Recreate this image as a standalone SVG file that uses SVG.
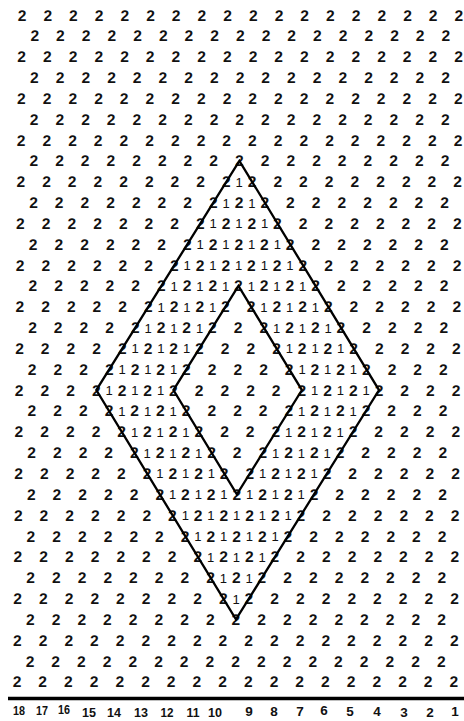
<svg xmlns="http://www.w3.org/2000/svg" xmlns:xlink="http://www.w3.org/1999/xlink" width="464" height="721" viewBox="0 0 464 721">
<style>
.two{font-family:"Liberation Sans",Arial,sans-serif;font-size:15.5px;font-weight:bold;fill:#111;text-anchor:middle}
.one{font-family:"Liberation Sans",Arial,sans-serif;font-size:13px;font-weight:normal;fill:#111;text-anchor:middle}
.num{font-family:"Liberation Sans",Arial,sans-serif;font-size:13.5px;font-weight:bold;fill:#111;text-anchor:middle}
.dia{fill:none;stroke:#000;stroke-width:2.3;stroke-linejoin:miter}
</style>
<defs>
<text id="odd" class="two" x="22.15 47.85 73.55 99.25 124.95 150.65 176.35 202.05 227.75 253.45 279.15 304.85 330.55 356.25 381.95 407.65 433.35 459.05" y="0">222222222222222222</text>
<text id="even" class="two" x="35 60.7 86.4 112.1 137.8 163.5 189.2 214.9 240.6 266.3 292 317.7 343.4 369.1 394.8 420.5 446.2" y="0">22222222222222222</text>
<text id="o1" class="one" x="240.6" y="0">1</text>
<text id="o2" class="one" x="227.75 253.45" y="0">11</text>
<text id="o3" class="one" x="214.9 240.6 266.3" y="0">111</text>
<text id="o4" class="one" x="202.05 227.75 253.45 279.15" y="0">1111</text>
<text id="o5" class="one" x="189.2 214.9 240.6 266.3 292" y="0">11111</text>
<text id="o6" class="one" x="176.35 202.05 227.75 253.45 279.15 304.85" y="0">111111</text>
<text id="o7" class="one" x="163.5 189.2 214.9 266.3 292 317.7" y="0">111111</text>
<text id="o8" class="one" x="150.65 176.35 202.05 279.15 304.85 330.55" y="0">111111</text>
<text id="o9" class="one" x="137.8 163.5 189.2 292 317.7 343.4" y="0">111111</text>
<text id="o10" class="one" x="124.95 150.65 176.35 304.85 330.55 356.25" y="0">111111</text>
<text id="o11" class="one" x="112.1 137.8 163.5 317.7 343.4 369.1" y="0">111111</text>
</defs>
<rect width="464" height="721" fill="#fff"/>
<g id="chart" transform="skewX(-0.43)">
<g id="grid">
<use href="#odd" y="20.5"/>
<use href="#even" y="41.34"/>
<use href="#odd" y="62.18"/>
<use href="#even" y="83.02"/>
<use href="#odd" y="103.86"/>
<use href="#even" y="124.7"/>
<use href="#odd" y="145.54"/>
<use href="#even" y="166.38"/>
<use href="#odd" y="187.22"/>
<use href="#even" y="208.06"/>
<use href="#odd" y="228.9"/>
<use href="#even" y="249.74"/>
<use href="#odd" y="270.58"/>
<use href="#even" y="291.42"/>
<use href="#odd" y="312.26"/>
<use href="#even" y="333.1"/>
<use href="#odd" y="353.94"/>
<use href="#even" y="374.78"/>
<use href="#odd" y="395.62"/>
<use href="#even" y="416.46"/>
<use href="#odd" y="437.3"/>
<use href="#even" y="458.14"/>
<use href="#odd" y="478.98"/>
<use href="#even" y="499.82"/>
<use href="#odd" y="520.66"/>
<use href="#even" y="541.5"/>
<use href="#odd" y="562.34"/>
<use href="#even" y="583.18"/>
<use href="#odd" y="604.02"/>
<use href="#even" y="624.86"/>
<use href="#odd" y="645.7"/>
<use href="#even" y="666.54"/>
<use href="#odd" y="687.38"/>
</g>
<g id="band">
<use href="#o1" y="186.72"/>
<use href="#o2" y="207.56"/>
<use href="#o3" y="228.4"/>
<use href="#o4" y="249.24"/>
<use href="#o5" y="270.08"/>
<use href="#o6" y="290.92"/>
<use href="#o7" y="311.76"/>
<use href="#o8" y="332.6"/>
<use href="#o9" y="353.44"/>
<use href="#o10" y="374.28"/>
<use href="#o11" y="395.12"/>
<use href="#o10" y="415.96"/>
<use href="#o9" y="436.8"/>
<use href="#o8" y="457.64"/>
<use href="#o7" y="478.48"/>
<use href="#o6" y="499.32"/>
<use href="#o5" y="520.16"/>
<use href="#o4" y="541"/>
<use href="#o3" y="561.84"/>
<use href="#o2" y="582.68"/>
<use href="#o1" y="603.52"/>
</g>
<g id="connectors">
<path class="dia" d="M240.6,160.9 L99.25,390.1 L240.6,619.4 L381.95,390.1 Z"/>
<path class="dia" d="M240.6,285.9 L176.35,390.1 L240.6,494.3 L304.85,390.1 Z"/>
</g>
</g>
<g id="axis">
<line x1="8" y1="698.5" x2="464" y2="698.5" stroke="#000" stroke-width="3.5"/>
<text class="num" x="19" y="715" textLength="12" lengthAdjust="spacingAndGlyphs">18</text>
<text class="num" x="42" y="715" textLength="12" lengthAdjust="spacingAndGlyphs">17</text>
<text class="num" x="64" y="714" textLength="12" lengthAdjust="spacingAndGlyphs">16</text>
<text class="num" x="89" y="717" textLength="14" lengthAdjust="spacingAndGlyphs">15</text>
<text class="num" x="114" y="717" textLength="14" lengthAdjust="spacingAndGlyphs">14</text>
<text class="num" x="141" y="717" textLength="14" lengthAdjust="spacingAndGlyphs">13</text>
<text class="num" x="167" y="717" textLength="13" lengthAdjust="spacingAndGlyphs">12</text>
<text class="num" x="193" y="717" textLength="13" lengthAdjust="spacingAndGlyphs">11</text>
<text class="num" x="215" y="717" textLength="14" lengthAdjust="spacingAndGlyphs">10</text>
<text class="num" x="249" y="716">9</text>
<text class="num" x="274" y="716">8</text>
<text class="num" x="300" y="716">7</text>
<text class="num" x="324" y="715">6</text>
<text class="num" x="350" y="716">5</text>
<text class="num" x="377" y="716">4</text>
<text class="num" x="404" y="717">3</text>
<text class="num" x="430" y="717">2</text>
<text class="num" x="455" y="716">1</text>
</g>
</svg>
